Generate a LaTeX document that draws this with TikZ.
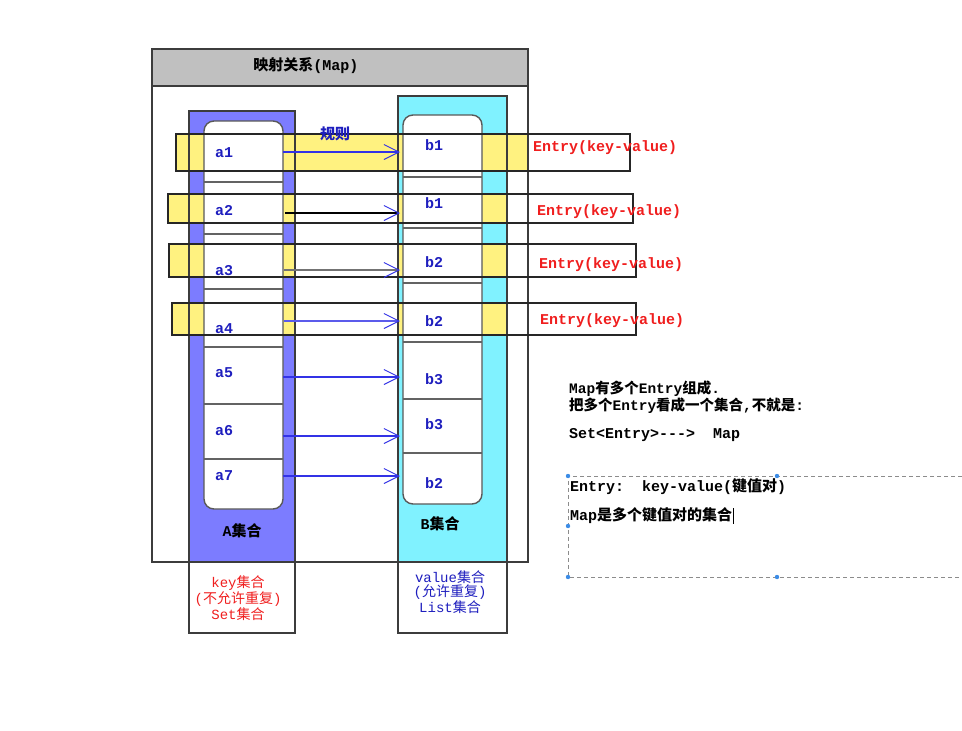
\documentclass[tikz,border=0pt]{standalone}
\usepackage{fontspec}
\setmainfont{Liberation Mono}
\newfontfamily\cjk{Noto Sans CJK SC}
\usetikzlibrary{arrows.meta}
\definecolor{colA}{RGB}{124,124,255}
\definecolor{colB}{RGB}{128,242,255}
\definecolor{yel}{RGB}{255,242,128}
\definecolor{hdr}{RGB}{192,192,192}
\definecolor{txtblue}{RGB}{30,30,190}
\definecolor{txtred}{RGB}{240,30,30}
\definecolor{edge}{RGB}{60,60,60}
\definecolor{arrblue}{RGB}{50,50,230}
\definecolor{handle}{RGB}{60,140,230}
\newcommand{\zh}[1]{{\cjk #1}}
\begin{document}
\begin{tikzpicture}[x=1pt,y=-1pt,
  every node/.style={inner sep=0pt, font=\fontsize{15}{15}\selectfont\bfseries},
  colbox/.style={draw=edge, line width=1.2pt},
  innerbox/.style={draw=edge!85, fill=white, rounded corners=10pt, line width=1.4pt},
  sepline/.style={draw=edge!80, line width=1.2pt},
  bandline/.style={draw=black!85, line width=1.2pt},
  cell/.style={text=txtblue, anchor=west},
  entry/.style={text=txtred, anchor=west},
  maparrow/.style={-{Straight Barb[length=15pt,width=15pt,line width=1pt,color=arrblue]}, line width=1.3pt, draw=arrblue},
  note/.style={anchor=west, text=black},
  setlabel/.style={align=center, font=\fontsize{14}{14.5}\selectfont\mdseries},
]
\useasboundingbox (0,0) rectangle (962,731);
\fill[white] (0,0) rectangle (962,731);
% outer frame fill and header
\fill[white] (152,49) rectangle (528,562);
\draw[colbox, fill=hdr] (152,49) rectangle (528,86);
\node (title) at (306,66) {\zh{映射关系}(Map)};
% column fills
\fill[colA] (189,111) rectangle (295,562);
\fill[colB] (398,96) rectangle (507,562);
% yellow bands
\fill[yel] (176,134) rectangle (528,171);
\fill[yel] (168,194) rectangle (295,223);
\fill[yel] (398,194) rectangle (507,223);
\fill[yel] (169,244) rectangle (295,277);
\fill[yel] (398,244) rectangle (507,277);
\fill[yel] (172,303) rectangle (295,335);
\fill[yel] (398,303) rectangle (507,335);
% outer frame outline
\draw[colbox] (152,49) rectangle (528,562);
% column borders and bottom boxes
\draw[colbox] (189,111) rectangle (295,633);
\draw[colbox] (398,96) rectangle (507,633);
\draw[colbox] (152,562) -- (528,562);
% inner boxes
\draw[innerbox] (204,121) rectangle (283,509);
\draw[innerbox] (403,115) rectangle (482,504);
\foreach \y in {182,234,289,347,404,459} \draw[sepline] (204,\y) -- (283,\y);
\foreach \y in {177,228,283,342,399,453} \draw[sepline] (403,\y) -- (482,\y);
% band outlines
\draw[bandline] (176,134) rectangle (630,171);
\draw[bandline] (168,194) rectangle (633,223);
\draw[bandline] (169,244) rectangle (636,277);
\draw[bandline] (172,303) rectangle (636,335);
% A labels
\node[cell] (a1) at (215,153) {a1};
\node[cell] (a2) at (215,211) {a2};
\node[cell] (a3) at (215,271) {a3};
\node[cell] (a4) at (215,329) {a4};
\node[cell] (a5) at (215,373) {a5};
\node[cell] (a6) at (215,431) {a6};
\node[cell] (a7) at (215,476) {a7};
% B labels
\node[cell] (b1) at (425,145) {b1};
\node[cell] (b1x) at (425,203) {b1};
\node[cell] (b2) at (425,262) {b2};
\node[cell] (b2x) at (425,321) {b2};
\node[cell] (b3) at (425,379) {b3};
\node[cell] (b3x) at (425,424) {b3};
\node[cell] (b2y) at (425,483) {b2};
% arrows
\coordinate (s1) at (283,152); \coordinate (e1) at (400,152);
\coordinate (s2) at (285,213); \coordinate (e2) at (400,213);
\coordinate (s3) at (284,270); \coordinate (e3) at (400,270);
\coordinate (s4) at (284,321); \coordinate (e4) at (400,321);
\coordinate (s5) at (283,377); \coordinate (e5) at (400,377);
\coordinate (s6) at (283,436); \coordinate (e6) at (400,436);
\coordinate (s7) at (283,476); \coordinate (e7) at (400,476);
\draw[maparrow] (s1) -- (e1);
\draw[maparrow, draw=black] (s2) -- (e2);
\draw[maparrow, draw=black!55] (s3) -- (e3);
\draw[maparrow, draw=arrblue!80] (s4) -- (e4);
\draw[maparrow] (s5) -- (e5);
\draw[maparrow] (s6) -- (e6);
\draw[maparrow] (s7) -- (e7);
\node[text=txtblue] (rule) at (335,134) {\zh{规则}};
% entry labels
\node[entry] (en1) at (533,148) {Entry(key-value)};
\node[entry] (en2) at (537,212) {Entry(key-value)};
\node[entry] (en3) at (539,265) {Entry(key-value)};
\node[entry] (en4) at (540,321) {Entry(key-value)};
% set names
\node (setA) at (242,531) {A\zh{集合}};
\node (setB) at (440,524) {B\zh{集合}};
\node[setlabel, text=txtred] (keyset) at (238,598) {key\zh{集合}\\(\zh{不允许重复})\\Set\zh{集合}};
\node[setlabel, text=txtblue] (valset) at (450,592) {value\zh{集合}\\(\zh{允许重复})\\List\zh{集合}};
% notes
\node[note, align=left, font=\fontsize{14.5}{14.5}\selectfont\bfseries] (n12) at (569,397) {Map\zh{有多个}Entry\zh{组成}.\\\zh{把多个}Entry\zh{看成一个集合},\zh{不就是}:};
\node[note] (n3) at (569,435) {Set<Entry>-{}-{}->\ \ Map};
% dashed selection box
\draw[black!45, line width=0.8pt, dash pattern=on 4pt off 3pt] (962,476) -- (568,476) -- (568,577) -- (962,577);
\foreach \p in {(568,476),(777,476),(568,526),(568,577),(777,577)} \fill[handle] \p circle (2.2);
\node[note] (n4) at (570,487) {Entry:\ \ key-value(\zh{键值对})};
\node[note] (n5) at (570,516) {Map\zh{是多个键值对的集合}\hspace{1pt}\rule[-3pt]{0.7pt}{16pt}};
\end{tikzpicture}
\end{document}
